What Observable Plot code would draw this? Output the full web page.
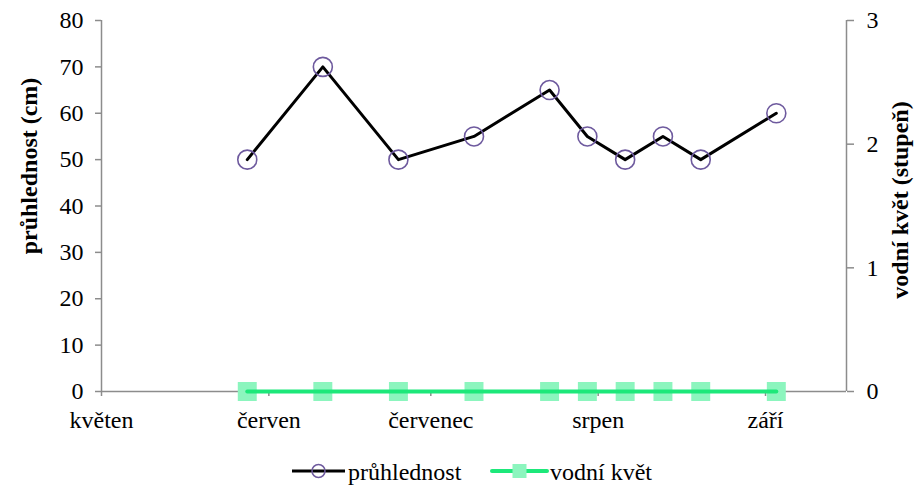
<!DOCTYPE html>
<html>
<head>
<meta charset="utf-8">
<script src="https://cdn.jsdelivr.net/npm/d3@7"></script>
<script src="https://cdn.jsdelivr.net/npm/@observablehq/plot@0.6"></script>
<style>
  body { margin: 0; background: #fff; }
  svg, svg text { font-family: "Liberation Serif", "Times New Roman", serif !important; }
  #chart svg, #legend svg { display: block; }
</style>
</head>
<body>
<div id="chart"></div>
<div id="legend"></div>
<script>
// Sampling dates and measurements
const sampleDates = ["2012-05-28", "2012-06-11", "2012-06-25", "2012-07-09", "2012-07-23",
                     "2012-07-30", "2012-08-06", "2012-08-13", "2012-08-20", "2012-09-03"];
const transparency = [50, 70, 50, 55, 65, 55, 50, 55, 50, 60];   // průhlednost (cm)
const bloom = [0, 0, 0, 0, 0, 0, 0, 0, 0, 0];                    // vodní květ (stupeň)

// Axis ticks and titles
const monthTicks = ["2012-05-01", "2012-06-01", "2012-07-01", "2012-08-01", "2012-09-01"];
const monthLabels = ["květen", "červen", "červenec", "srpen", "září"];
const leftTicks = [0, 10, 20, 30, 40, 50, 60, 70, 80];
const rightTicks = [0, 1, 2, 3];
const leftTitle = "průhlednost (cm)";
const rightTitle = "vodní květ (stupeň)";
const seriesNames = ["průhlednost", "vodní květ"];

const parse = d3.utcParse("%Y-%m-%d");
const rows = sampleDates.map((d, i) => ({date: parse(d), transparency: transparency[i], bloom: bloom[i]}));
const tickDates = monthTicks.map(parse);
const xDomain = [parse("2012-05-01"), parse("2012-09-16")];
const yMax = 80, y2Max = 3;
const axisColor = "#8c8c8c";
const lineColor = "#000";
const circleColor = "#6e5a9e";
const bloomLine = "#1de87a";
const bloomSquare = "#8cf5be";
const fs = 24;

const chart = Plot.plot({
  width: 917,
  height: 440,
  marginLeft: 101,
  marginRight: 71,
  marginTop: 20,
  marginBottom: 49,
  style: {fontSize: fs + "px", color: "#000"},
  x: {type: "utc", domain: xDomain},
  y: {domain: [0, yMax]},
  marks: [
    // axis lines
    Plot.ruleX([xDomain[0]], {stroke: axisColor, strokeWidth: 1.5}),
    Plot.ruleX([xDomain[1]], {stroke: axisColor, strokeWidth: 1.5}),
    Plot.ruleY([0], {stroke: axisColor, strokeWidth: 1.5}),
    Plot.axisY(leftTicks, {
      anchor: "left", tickSize: 6, tickPadding: 12, stroke: axisColor, strokeWidth: 1.5,
      fontSize: fs, label: null
    }),
    Plot.axisY(rightTicks, {
      anchor: "right", y: d => d * yMax / y2Max, tickFormat: d => String(d),
      tickSize: 7, tickPadding: 13, stroke: axisColor, strokeWidth: 1.5,
      fontSize: fs, label: null
    }),
    Plot.axisX(tickDates, {
      tickSize: 5, tickPadding: 14, stroke: axisColor, strokeWidth: 1.5,
      fontSize: fs, tickFormat: (d, i) => monthLabels[i], label: null
    }),
    // axis titles
    Plot.text([leftTitle], {frameAnchor: "left", dx: -72, dy: -40, rotate: -90, textAnchor: "middle",
      fontSize: fs, fontWeight: "bold", text: d => d}),
    Plot.text([rightTitle], {frameAnchor: "right", dx: 54, dy: -6, rotate: -90, textAnchor: "middle",
      fontSize: fs, fontWeight: "bold", text: d => d}),
    // vodní květ
    Plot.dot(rows, {x: "date", y: d => d.bloom * yMax / y2Max, symbol: "square", r: 10.7, fill: bloomSquare, stroke: null}),
    Plot.line(rows, {x: "date", y: d => d.bloom * yMax / y2Max, stroke: bloomLine, strokeWidth: 4}),
    // průhlednost
    Plot.line(rows, {x: "date", y: "transparency", stroke: lineColor, strokeWidth: 3}),
    Plot.dot(rows, {x: "date", y: "transparency", r: 9.5, stroke: circleColor, strokeWidth: 1.6, fill: "none"})
  ]
});
document.getElementById("chart").append(chart);

// Legend strip below the chart
const lg = d3.select("#legend").append("svg").attr("width", 917).attr("height", 45);
const g1 = lg.append("g").attr("transform", "translate(292,31)");
g1.append("line").attr("x1", 0).attr("x2", 53).attr("stroke", lineColor).attr("stroke-width", 3);
g1.append("circle").attr("cx", 26.5).attr("r", 6.5).attr("fill", "none").attr("stroke", circleColor).attr("stroke-width", 1.5);
g1.append("text").attr("x", 56).attr("y", 9).attr("font-size", fs).text(seriesNames[0]);
const g2 = lg.append("g").attr("transform", "translate(492,31)");
g2.append("line").attr("x1", 0).attr("x2", 55).attr("stroke", bloomLine).attr("stroke-width", 4).attr("stroke-linecap", "round");
g2.append("rect").attr("x", 20.5).attr("y", -7).attr("width", 14).attr("height", 14).attr("fill", bloomSquare);
g2.append("text").attr("x", 58).attr("y", 9).attr("font-size", fs).text(seriesNames[1]);
</script>
</body>
</html>
